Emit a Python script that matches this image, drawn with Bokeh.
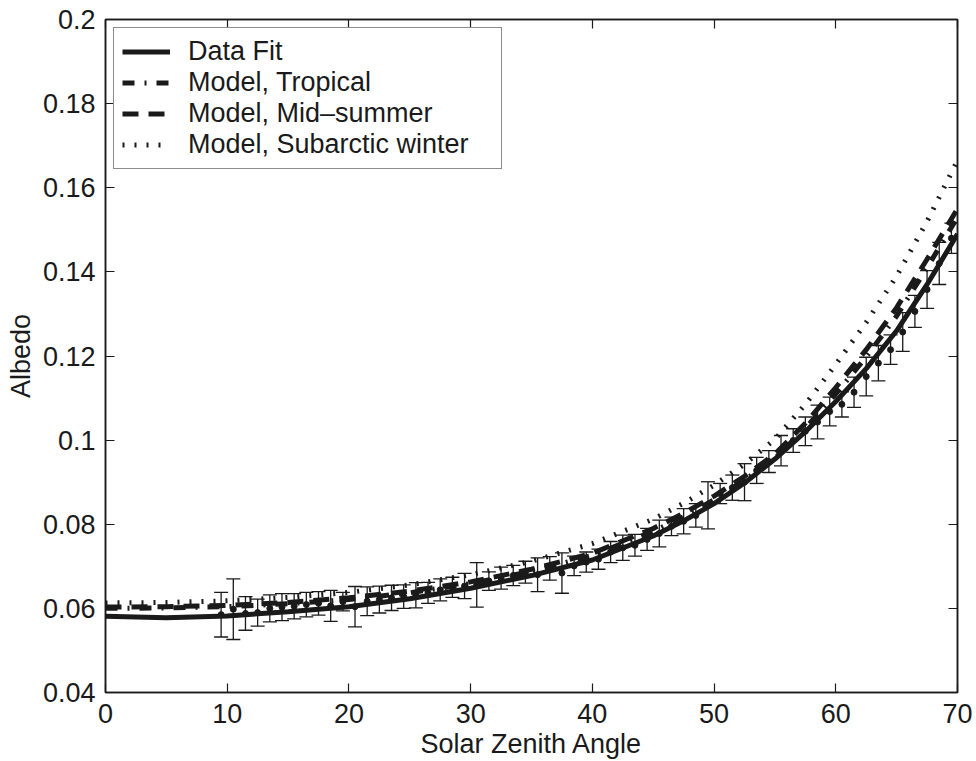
from bokeh.plotting import figure
from bokeh.models import (ColumnDataSource, Whisker, TeeHead, LinearAxis, FixedTicker,
                          Range1d, CustomJSTickFormatter)
from bokeh.embed import file_html
from bokeh.resources import INLINE

# ---------------- data ----------------
curve_x = [0, 5, 10, 15, 20, 25, 30, 35, 40, 45, 47.5, 50, 52.5, 55, 57.5, 60, 62.5, 65, 67.5, 70]
data_fit = [0.0581, 0.0578, 0.0582, 0.0592, 0.0604, 0.0623, 0.0648, 0.0678, 0.0715, 0.0772,
            0.0808, 0.0849, 0.0898, 0.0955, 0.1020, 0.1092, 0.1170, 0.1260, 0.1370, 0.1490]
model_tropical = [0.0600, 0.0601, 0.0604, 0.0611, 0.0621, 0.0637, 0.0659, 0.0688, 0.0726, 0.0783,
                  0.0818, 0.0858, 0.0905, 0.0957, 0.1028, 0.1110, 0.1198, 0.1295, 0.1410, 0.1530]
model_midsummer = [0.0603, 0.0604, 0.0607, 0.0614, 0.0625, 0.0641, 0.0663, 0.0693, 0.0731, 0.0790,
                   0.0826, 0.0867, 0.0914, 0.0967, 0.1040, 0.1125, 0.1215, 0.1315, 0.1430, 0.1550]
model_subarctic = [0.0613, 0.0614, 0.0618, 0.0626, 0.0638, 0.0656, 0.0680, 0.0712, 0.0754, 0.0812,
                   0.0850, 0.0893, 0.0943, 0.1002, 0.1085, 0.1180, 0.1280, 0.1390, 0.1520, 0.1665]

obs_angle = [9.5, 10.5, 11.5, 12.5, 13.5, 14.5, 15.5, 16.5, 17.5, 18.5, 19.5, 20.5, 21.5, 22.5,
             23.5, 24.5, 25.5, 26.5, 27.5, 28.5, 29.5, 30.5, 31.5, 32.5, 33.5, 34.5, 35.5, 36.5,
             37.5, 38.5, 39.5, 40.5, 41.5, 42.5, 43.5, 44.5, 45.5, 46.5, 47.5, 48.5, 49.5, 50.5,
             51.5, 52.5, 53.5, 54.5, 55.5, 56.5, 57.5, 58.5, 59.5, 60.5, 61.5, 62.5, 63.5, 64.5,
             65.5, 66.5, 67.5, 68.5, 69.5]
obs_mean = [0.0585, 0.0598, 0.0588, 0.0590, 0.0600, 0.0603, 0.0605, 0.0609, 0.0612, 0.0606,
            0.0616, 0.0604, 0.0617, 0.0621, 0.0625, 0.0628, 0.0631, 0.0637, 0.0644, 0.0650,
            0.0653, 0.0656, 0.0665, 0.0672, 0.0678, 0.0686, 0.0680, 0.0695, 0.0684, 0.0701,
            0.0710, 0.0717, 0.0734, 0.0744, 0.0750, 0.0764, 0.0778, 0.0795, 0.0807, 0.0821,
            0.0845, 0.0873, 0.0887, 0.0900, 0.0928, 0.0949, 0.0975, 0.0999, 0.1021, 0.1043,
            0.1068, 0.1085, 0.1114, 0.1151, 0.1183, 0.1215, 0.1257, 0.1306, 0.1358, 0.1420,
            0.1480]
obs_err = [0.0053, 0.0072, 0.0040, 0.0032, 0.0032, 0.0032, 0.0030, 0.0029, 0.0028, 0.0037,
           0.0022, 0.0048, 0.0034, 0.0032, 0.0030, 0.0028, 0.0030, 0.0025, 0.0026, 0.0024,
           0.0030, 0.0053, 0.0022, 0.0026, 0.0024, 0.0026, 0.0040, 0.0028, 0.0048, 0.0023,
           0.0024, 0.0024, 0.0025, 0.0030, 0.0026, 0.0026, 0.0032, 0.0022, 0.0030, 0.0028,
           0.0056, 0.0024, 0.0030, 0.0044, 0.0031, 0.0026, 0.0036, 0.0028, 0.0034, 0.0040,
           0.0034, 0.0030, 0.0036, 0.0046, 0.0042, 0.0035, 0.0046, 0.0038, 0.0045, 0.0050,
           0.0036]

x_ticks = [0, 10, 20, 30, 40, 50, 60, 70]
y_ticks = [0.04, 0.06, 0.08, 0.1, 0.12, 0.14, 0.16, 0.18, 0.2]

FONT = "Liberation Sans"
INK = "#1a1a1a"

# ---------------- figure ----------------
p = figure(width=976, height=761, output_backend="svg", toolbar_location=None,
           x_range=Range1d(0, 70), y_range=Range1d(0.04, 0.2),
           min_border_left=105, min_border_right=19, min_border_top=19, min_border_bottom=69,
           background_fill_color="white", border_fill_color="white")
p.grid.visible = False
p.outline_line_color = INK
p.outline_line_width = 1.5

fmt = CustomJSTickFormatter(code="return (Math.round(tick*100)/100).toString();")

def style_axis(ax, show_labels=True):
    ax.major_tick_in = 9
    ax.major_tick_out = 0
    ax.minor_tick_in = 0
    ax.minor_tick_out = 0
    ax.axis_line_color = INK
    ax.axis_line_width = 1.5
    ax.major_tick_line_color = INK
    ax.major_tick_line_width = 1.2
    ax.major_label_text_font = FONT
    ax.major_label_text_font_size = "27px"
    ax.major_label_text_color = INK if show_labels else None
    ax.axis_label_text_font = FONT
    ax.axis_label_text_font_size = "27px"
    ax.axis_label_text_font_style = "normal"
    ax.axis_label_text_color = INK

xa = p.xaxis[0]
xa.ticker = FixedTicker(ticks=x_ticks)
xa.axis_label = "Solar Zenith Angle"
style_axis(xa)
xa.major_label_standoff = 11
xa.axis_label_standoff = 3

ya = p.yaxis[0]
ya.ticker = FixedTicker(ticks=y_ticks)
ya.formatter = fmt
ya.axis_label = "Albedo"
style_axis(ya)
ya.major_label_standoff = 10
ya.axis_label_standoff = 4

top = LinearAxis(ticker=FixedTicker(ticks=x_ticks))
style_axis(top, show_labels=False)
top.major_label_text_font_size = "0px"
top.major_label_standoff = 0
p.add_layout(top, "above")

right = LinearAxis(ticker=FixedTicker(ticks=y_ticks))
style_axis(right, show_labels=False)
right.major_label_text_font_size = "0px"
right.major_label_standoff = 0
p.add_layout(right, "right")

# ---------------- error bars + observations ----------------
obs = ColumnDataSource(dict(
    x=obs_angle, y=obs_mean,
    lo=[m - e for m, e in zip(obs_mean, obs_err)],
    hi=[m + e for m, e in zip(obs_mean, obs_err)],
))
wh = Whisker(source=obs, base="x", lower="lo", upper="hi",
             line_color=INK, line_width=1.3,
             upper_head=TeeHead(size=14, line_color=INK, line_width=1.3),
             lower_head=TeeHead(size=14, line_color=INK, line_width=1.3))
p.add_layout(wh)
p.scatter("x", "y", source=obs, size=6, color=INK)

# ---------------- curves ----------------
p.line(curve_x, data_fit, line_color=INK, line_width=5, legend_label="Data Fit")
p.line(curve_x, model_tropical, line_color=INK, line_width=5, line_dash="12 10 2 10",
       legend_label="Model, Tropical")
p.line(curve_x, model_midsummer, line_color=INK, line_width=5, line_dash="16 10",
       legend_label="Model, Mid\u2013summer")
p.line(curve_x, model_subarctic, line_color=INK, line_width=5, line_dash="2 10",
       legend_label="Model, Subarctic winter")

lg = p.legend[0]
lg.location = "top_left"
lg.margin = 8
lg.padding = 8
lg.spacing = 0
lg.label_height = 31
lg.glyph_height = 31
lg.glyph_width = 48
lg.label_standoff = 18
lg.label_width = 305
lg.border_line_color = INK
lg.border_line_width = 1.5
lg.background_fill_color = "white"
lg.background_fill_alpha = 1.0
lg.label_text_font = FONT
lg.label_text_font_size = "27px"
lg.label_text_color = INK

open("out.html", "w").write(file_html(p, INLINE))
